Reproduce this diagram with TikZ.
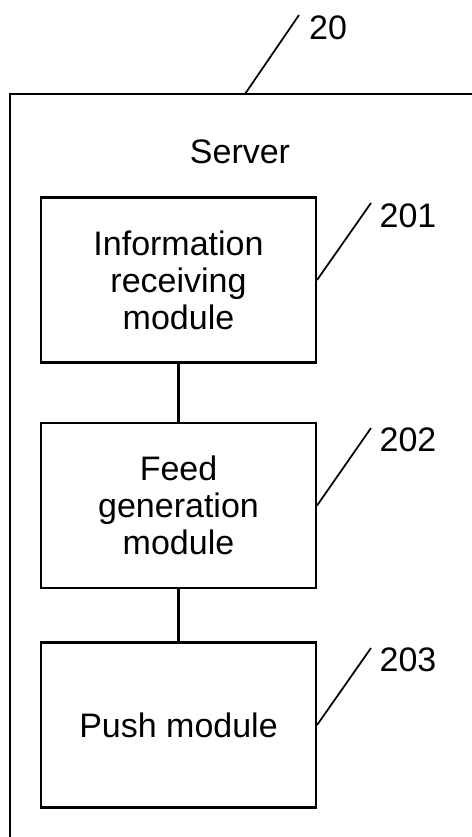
\documentclass[tikz,border=0pt]{standalone}
\usepackage{fontspec}
\setmainfont{Liberation Sans}
\begin{document}
\begin{tikzpicture}[x=0.75pt,y=-0.75pt,
  line width=1.6pt,
  module/.style={draw, line width=1.6pt, minimum width=206.25pt, minimum height=123.75pt,
    align=center, font=\fontsize{25.5}{27.75}\selectfont, inner sep=0pt},
  refnum/.style={inner sep=0pt, font=\fontsize{25.5}{28}\selectfont},
  leader/.style={line width=1.3pt}]
\useasboundingbox (0,0) rectangle (471,837);
% server enclosure (open to the right and bottom)
\coordinate (srvTR) at (475,94);
\coordinate (srvTL) at (10,94);
\coordinate (srvBL) at (10,841);
\draw (srvTR) -- (srvTL) -- (srvBL);
\node[refnum] (srvlabel) at (240,152) {Server};
% reference 20
\coordinate (l20a) at (245,94);
\coordinate (l20b) at (299,15);
\draw[leader] (l20a) -- (l20b);
\node[refnum] (n20) at (328,28) {20};
% modules
\node[module] (m1) at (178.5,280) {Information\\receiving\\module};
\node[module] (m2) at (178.5,505.5) {Feed\\generation\\module};
\node[module] (m3) at (178.5,725) {Push module};
\draw (m1.south) -- (m2.north);
\draw (m2.south) -- (m3.north);
% reference numerals of the modules
\coordinate (t1) at (371,203);
\coordinate (t2) at (371,428);
\coordinate (t3) at (371,648);
\draw[leader] (m1.east) -- (t1);
\draw[leader] (m2.east) -- (t2);
\draw[leader] (m3.east) -- (t3);
\node[refnum] (n201) at (408,216) {201};
\node[refnum] (n202) at (408,440) {202};
\node[refnum] (n203) at (408,660) {203};
\end{tikzpicture}
\end{document}
